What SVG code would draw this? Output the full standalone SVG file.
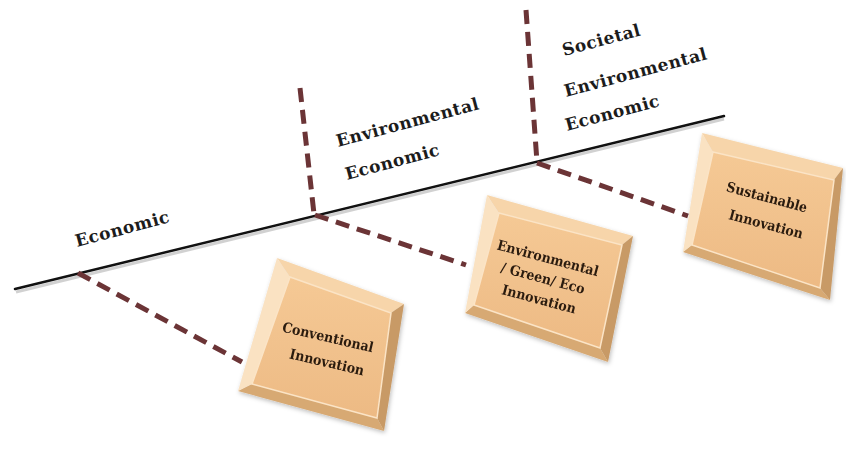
<svg xmlns="http://www.w3.org/2000/svg" width="846" height="457" viewBox="0 0 846 457">
<defs>
<style>
.axis{fill:none;stroke:#111;stroke-width:2.5;stroke-linecap:round}
.axshadow{fill:none;stroke:#999;stroke-width:3;opacity:.45}
.dash{fill:none;stroke:#6b3436;stroke-width:5;stroke-dasharray:14 8}
.lbl{font-family:"DejaVu Serif","Liberation Serif",serif;font-weight:bold;font-size:17px;letter-spacing:0.5px;fill:#1c1c1c}
.btxt{font-family:"DejaVu Serif Condensed","DejaVu Serif","Liberation Serif",serif;font-stretch:condensed;font-weight:bold;font-size:14px;fill:#2a1a10;text-anchor:middle}
.bt{fill:#f7d5aa}
.bl{fill:#fae2c2}
.bb{fill:#d7a973}
.br{fill:#c89a66}
.face{fill:url(#fg);stroke:#fbe4c6;stroke-width:1.5}
</style>
<linearGradient id="fg" x1="0" y1="0" x2="0" y2="1">
<stop offset="0" stop-color="#f5c995"/>
<stop offset="1" stop-color="#edba84"/>
</linearGradient>
<filter id="sh" x="-10%" y="-10%" width="120%" height="120%">
<feDropShadow dx="1" dy="2" stdDeviation="2" flood-color="#000" flood-opacity="0.25"/>
</filter>
</defs>
<g id="connectors">
<line class="axshadow" x1="16" y1="292" x2="724" y2="119"/>
<line class="axis" x1="15" y1="289" x2="724" y2="116"/>
<line class="dash" x1="78" y1="273" x2="242" y2="362"/>
<line class="dash" x1="300" y1="88" x2="314" y2="214"/>
<line class="dash" x1="315" y1="215" x2="466" y2="265"/>
<line class="dash" x1="526" y1="10" x2="537" y2="162"/>
<line class="dash" x1="537" y1="163" x2="688" y2="216"/>
</g>
<g id="labels">
<text class="lbl" transform="translate(77,247) rotate(-15)">Economic</text>
<text class="lbl" transform="translate(338,147) rotate(-15)">Environmental</text>
<text class="lbl" transform="translate(347,180) rotate(-15)">Economic</text>
<text class="lbl" transform="translate(564,56) rotate(-15)">Societal</text>
<text class="lbl" transform="translate(566,97) rotate(-15)">Environmental</text>
<text class="lbl" transform="translate(567,131) rotate(-15)">Economic</text>
</g>
<g id="conventional" filter="url(#sh)">
<polygon class="bt" points="277,258 404,304 391,313 290,277"/>
<polygon class="br" points="404,304 384,431 377,418 391,313"/>
<polygon class="bb" points="384,431 238,391 252,384 377,418"/>
<polygon class="bl" points="238,391 277,258 290,277 252,384"/>
<polygon class="face" points="290,277 391,313 377,418 252,384"/>
<text class="btxt" transform="translate(328,337) rotate(13)" y="5">Conventional</text>
<text class="btxt" transform="translate(327,362) rotate(13)" y="5">Innovation</text>
</g>
<g id="green" filter="url(#sh)">
<polygon class="bt" points="487,195 633,236 622,245 499,213"/>
<polygon class="br" points="633,236 608,362 600,348 622,245"/>
<polygon class="bb" points="608,362 465,313 474,305 600,348"/>
<polygon class="bl" points="465,313 487,195 499,213 474,305"/>
<polygon class="face" points="499,213 622,245 600,348 474,305"/>
<text class="btxt" transform="translate(548,258) rotate(15)" y="5">Environmental</text>
<text class="btxt" transform="translate(543,278) rotate(15)" y="5">/ Green/ Eco</text>
<text class="btxt" transform="translate(539,299) rotate(15)" y="5">Innovation</text>
</g>
<g id="sustainable" filter="url(#sh)">
<polygon class="bt" points="702,133 843,168 834,180 713,152"/>
<polygon class="br" points="843,168 830,300 820,288 834,180"/>
<polygon class="bb" points="830,300 683,252 692,245 820,288"/>
<polygon class="bl" points="683,252 702,133 713,152 692,245"/>
<polygon class="face" points="713,152 834,180 820,288 692,245"/>
<text class="btxt" transform="translate(767,197) rotate(15)" y="5">Sustainable</text>
<text class="btxt" transform="translate(766,224) rotate(15)" y="5">Innovation</text>
</g>
</svg>
